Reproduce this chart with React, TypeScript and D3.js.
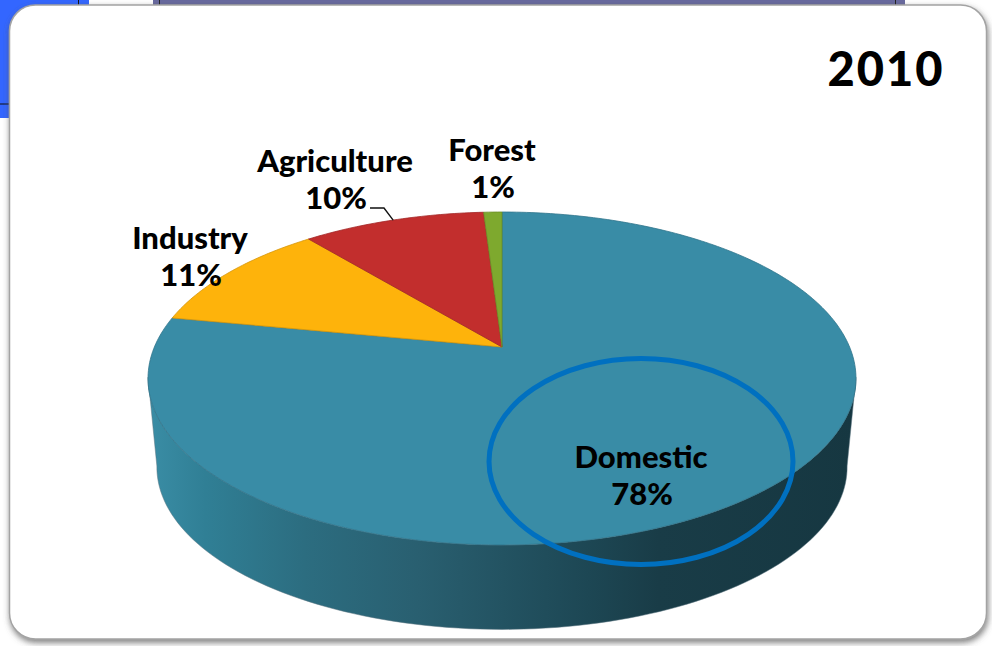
import React, { useEffect, useRef } from "react";
import * as d3 from "d3";

// Water withdrawal share by sector, 2010
const categories = ["Domestic", "Industry", "Agriculture", "Forest"];
const shares = [78, 11, 10, 1];
const sliceColors = ["#398ca6", "#feb30b", "#c22e2d", "#7ea92e"];
const titleText = "2010";

const WIDTH = 992;
const HEIGHT = 646;

// Tilted disc: a projective map from the unit disc to the screen
const APEX = { x: 502, y: 347 };
const TILT = 0.189;
const RADIUS_X = 347.6;
const RADIUS_Y = 160.5;
const DEPTH_CENTER_Y = 466;
const RIM_SCALE = 0.975;

const labelAnchors: Record<string, { x: number; y: number }> = {
  Domestic: { x: 641, y: 468 },
  Industry: { x: 190, y: 249 },
  Agriculture: { x: 335, y: 172 },
  Forest: { x: 492, y: 161 },
};

const sideStops: [number, string][] = [
  [0, "#3a8da5"],
  [0.08, "#307f95"],
  [0.22, "#2c6d80"],
  [0.38, "#295f70"],
  [0.5, "#235362"],
  [0.62, "#1d4754"],
  [0.72, "#193c47"],
  [1, "#163741"],
];

function project(angle: number) {
  const u = Math.sin(angle);
  const v = -Math.cos(angle);
  const w = 1 - TILT * v;
  return [APEX.x + (RADIUS_X * u) / w, APEX.y + (RADIUS_Y * v) / w] as [number, number];
}

export default function App() {
  const ref = useRef<SVGSVGElement>(null);

  useEffect(() => {
    document.body.style.margin = "0";
    const svg = d3.select(ref.current!);
    svg.selectAll("*").remove();
    const defs = svg.append("defs");

    const shadow = defs.append("filter").attr("id", "panelShadow")
      .attr("x", "-5%").attr("y", "-5%").attr("width", "110%").attr("height", "110%");
    shadow.append("feDropShadow").attr("dx", 1).attr("dy", 3).attr("stdDeviation", 3)
      .attr("flood-color", "#555").attr("flood-opacity", 0.75);

    const grad = defs.append("linearGradient").attr("id", "sideFill")
      .attr("gradientUnits", "userSpaceOnUse")
      .attr("x1", 149).attr("x2", 857).attr("y1", 0).attr("y2", 0);
    sideStops.forEach(([o, c]) => grad.append("stop").attr("offset", o).attr("stop-color", c));

    // Backdrop: the slide showing behind the panel
    const bg = svg.append("g");
    bg.append("rect").attr("width", WIDTH).attr("height", HEIGHT).attr("fill", "#fff");
    bg.append("rect").attr("width", 89).attr("height", 118).attr("fill", "#3366ff");
    bg.append("rect").attr("x", 153).attr("width", 752).attr("height", 8).attr("fill", "#68699e");
    bg.append("line").attr("x1", 78.5).attr("x2", 78.5).attr("y1", 0).attr("y2", 6).attr("stroke", "#111");
    bg.append("line").attr("x1", 159.5).attr("x2", 159.5).attr("y1", 0).attr("y2", 6).attr("stroke", "#222");
    bg.append("line").attr("x1", 895.5).attr("x2", 895.5).attr("y1", 0).attr("y2", 6).attr("stroke", "#222");
    bg.append("line").attr("x1", 0).attr("x2", 9).attr("y1", 104).attr("y2", 104).attr("stroke", "#111");

    svg.append("rect")
      .attr("x", 9.5).attr("y", 5).attr("width", 977).attr("height", 634).attr("rx", 26)
      .attr("fill", "#fff").attr("stroke", "#a3a3a3").attr("stroke-width", 1.5)
      .attr("filter", "url(#panelShadow)");

    const toScreen = d3.line<number>().x((a) => project(a)[0]).y((a) => project(a)[1]);

    // Ellipse of the top face, used for the rim and the outer wall
    const tau = 2 * Math.PI;
    const samples = d3.range(0, 241).map((i) => (i / 240) * tau);
    const outline = samples.map(project);
    const leftIdx = d3.leastIndex(outline, (a, b) => a[0] - b[0])!;
    const rightIdx = d3.leastIndex(outline, (a, b) => b[0] - a[0])!;
    const front = outline.slice(rightIdx, leftIdx + 1);
    const cx = (outline[leftIdx][0] + outline[rightIdx][0]) / 2;
    const cy = outline[rightIdx][1];
    const bottomRim = front
      .map(([x, y]) => [cx + (x - cx) * RIM_SCALE, DEPTH_CENTER_Y + (y - cy) * RIM_SCALE] as [number, number])
      .reverse();

    svg.append("path")
      .attr("d", d3.line()([...front, ...bottomRim]) + "Z")
      .attr("fill", "url(#sideFill)")
      .attr("stroke", "#5a7580").attr("stroke-width", 0.5);

    // Top face slices, clockwise from twelve o'clock
    const pie = d3.pie<number>().sort(null).value((d) => d);
    const arcs = pie(shares);
    const faces = svg.append("g");
    arcs.forEach((arc, i) => {
      const steps = Math.max(4, Math.ceil((arc.endAngle - arc.startAngle) * 60));
      const pts = d3.range(steps + 1).map((k) => arc.startAngle + ((arc.endAngle - arc.startAngle) * k) / steps);
      const d = `M${APEX.x},${APEX.y}L` + toScreen(pts)!.slice(1) + "Z";
      faces.append("path").attr("d", d).attr("fill", sliceColors[i])
        .attr("stroke", d3.color(sliceColors[i])!.darker(0.5).formatHex())
        .attr("stroke-width", 0.8).attr("stroke-linejoin", "round");
    });

    // Leader from the Agriculture label to its slice
    const midAgri = project((arcs[2].startAngle + arcs[2].endAngle) / 2);
    svg.append("path")
      .attr("d", `M370,208H384L${midAgri[0]},${midAgri[1]}`)
      .attr("fill", "none").attr("stroke", "#111").attr("stroke-width", 1.4);

    // Callout ring around the largest slice's label
    svg.append("ellipse")
      .attr("cx", 641).attr("cy", 461.5).attr("rx", 152).attr("ry", 103)
      .attr("fill", "none").attr("stroke", "#0070c0").attr("stroke-width", 5);

    const font = "Lato, 'Open Sans', sans-serif";
    categories.forEach((name, i) => {
      const p = labelAnchors[name];
      const t = svg.append("text").attr("text-anchor", "middle")
        .attr("font-family", font).attr("font-weight", 900).attr("font-size", 31).attr("fill", "#000");
      t.append("tspan").attr("x", p.x).attr("y", p.y).text(name);
      t.append("tspan").attr("x", p.x + 1).attr("y", p.y + 37).text(`${shares[i]}%`);
    });

    svg.append("text").attr("x", 886).attr("y", 86).attr("text-anchor", "middle")
      .attr("font-family", font).attr("font-weight", 900).attr("font-size", 47)
      .attr("letter-spacing", 2).attr("fill", "#000").text(titleText);
  }, []);

  return (
    <svg
      ref={ref}
      width={WIDTH}
      height={HEIGHT}
      viewBox={`0 0 ${WIDTH} ${HEIGHT}`}
      style={{ position: "fixed", left: 0, top: 0, display: "block" }}
    />
  );
}
